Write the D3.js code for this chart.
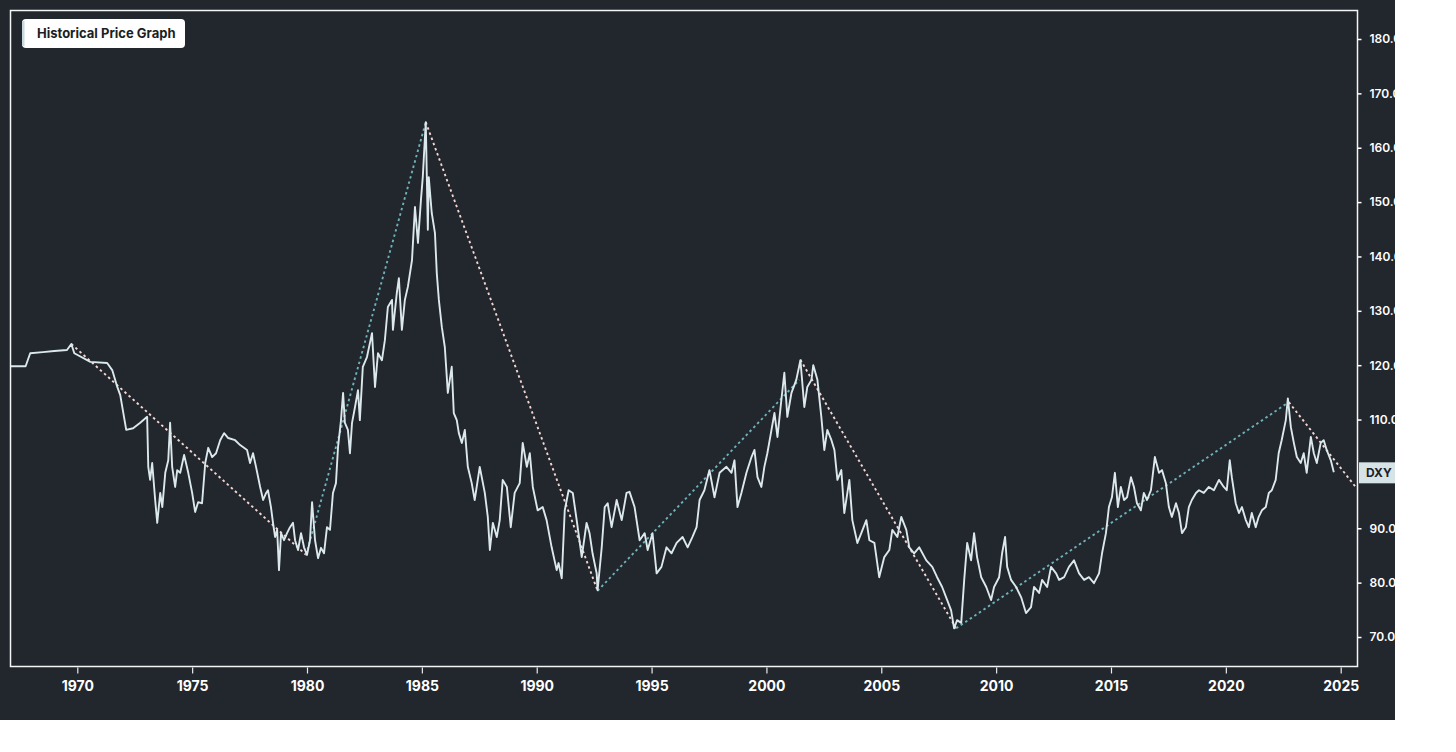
<!DOCTYPE html>
<html><head><meta charset="utf-8">
<script src="https://cdn.jsdelivr.net/npm/d3@7"></script>
<style>html,body{margin:0;padding:0;background:#fff}svg{display:block}</style>
</head><body>
<svg id="c" width="1456" height="752"></svg>
<script>
const title = "Historical Price Graph";
const seriesName = "DXY";
const lastValue = 100.2;
const xTicks = [1970,1975,1980,1985,1990,1995,2000,2005,2010,2015,2020,2025];
const yTicks = [70,80,90,110,120,130,140,150,160,170,180];
const years = [1967.09,1967.75,1967.95,1968.5,1969.0,1969.55,1969.74,1969.87,1970.57,1971.30,1971.52,1971.74,1971.87,1972.13,1972.43,1972.74,1973.04,1973.09,1973.17,1973.26,1973.39,1973.48,1973.61,1973.70,1973.83,1973.96,1974.04,1974.13,1974.26,1974.35,1974.48,1974.65,1974.83,1975.0,1975.13,1975.26,1975.43,1975.57,1975.70,1975.87,1976.04,1976.22,1976.39,1976.57,1976.87,1977.09,1977.39,1977.52,1977.65,1977.78,1977.96,1978.09,1978.22,1978.30,1978.43,1978.52,1978.61,1978.70,1978.78,1978.87,1979.0,1979.13,1979.26,1979.39,1979.48,1979.61,1979.74,1979.87,1980.0,1980.13,1980.22,1980.35,1980.48,1980.61,1980.74,1980.87,1981.0,1981.13,1981.26,1981.35,1981.48,1981.57,1981.65,1981.78,1981.87,1981.96,1982.09,1982.22,1982.30,1982.43,1982.61,1982.74,1982.83,1982.96,1983.09,1983.26,1983.39,1983.52,1983.70,1983.74,1983.91,1984.0,1984.13,1984.26,1984.39,1984.57,1984.70,1984.83,1984.96,1985.04,1985.17,1985.26,1985.30,1985.43,1985.57,1985.65,1985.74,1985.87,1986.0,1986.13,1986.30,1986.39,1986.52,1986.61,1986.74,1986.87,1987.0,1987.17,1987.30,1987.52,1987.74,1987.87,1987.96,1988.09,1988.26,1988.39,1988.52,1988.70,1988.87,1989.04,1989.26,1989.39,1989.57,1989.70,1989.83,1990.04,1990.26,1990.43,1990.65,1990.87,1990.95,1991.09,1991.22,1991.39,1991.57,1991.74,1991.96,1992.17,1992.30,1992.43,1992.61,1992.65,1992.83,1992.96,1993.09,1993.26,1993.48,1993.70,1993.91,1994.04,1994.26,1994.48,1994.70,1994.83,1995.04,1995.22,1995.43,1995.65,1995.87,1996.09,1996.35,1996.57,1996.78,1996.96,1997.09,1997.30,1997.52,1997.74,1997.96,1998.26,1998.48,1998.61,1998.74,1998.91,1999.13,1999.35,1999.48,1999.61,1999.78,1999.91,2000.04,2000.22,2000.35,2000.48,2000.65,2000.78,2000.91,2001.09,2001.30,2001.48,2001.65,2001.78,2001.96,2002.04,2002.22,2002.39,2002.52,2002.65,2002.83,2002.96,2003.09,2003.26,2003.39,2003.61,2003.74,2003.96,2004.13,2004.35,2004.48,2004.70,2004.91,2005.13,2005.35,2005.48,2005.70,2005.87,2006.09,2006.22,2006.43,2006.65,2006.96,2007.22,2007.43,2007.65,2007.87,2008.04,2008.17,2008.30,2008.48,2008.61,2008.74,2008.91,2009.04,2009.17,2009.35,2009.57,2009.78,2009.91,2010.13,2010.26,2010.39,2010.48,2010.65,2010.87,2011.09,2011.30,2011.52,2011.65,2011.87,2012.0,2012.22,2012.39,2012.61,2012.74,2012.96,2013.17,2013.39,2013.61,2013.83,2014.04,2014.26,2014.48,2014.61,2014.78,2014.91,2015.04,2015.17,2015.30,2015.43,2015.57,2015.70,2015.87,2016.0,2016.13,2016.30,2016.43,2016.57,2016.74,2016.91,2017.09,2017.22,2017.39,2017.52,2017.65,2017.83,2017.96,2018.09,2018.26,2018.39,2018.52,2018.70,2018.83,2019.04,2019.26,2019.48,2019.70,2019.91,2020.04,2020.17,2020.26,2020.43,2020.57,2020.70,2020.87,2021.0,2021.13,2021.30,2021.43,2021.57,2021.74,2021.87,2022.0,2022.17,2022.30,2022.43,2022.61,2022.70,2022.83,2022.96,2023.09,2023.26,2023.39,2023.52,2023.70,2023.83,2023.96,2024.13,2024.26,2024.39,2024.57,2024.70];
const values = [119.8,119.8,122.2,122.4,122.6,122.8,123.9,122.2,120.6,120.4,119.1,116.0,114.5,108.1,108.4,109.4,110.5,101.3,98.9,102.0,95.2,91.0,96.5,93.9,100.2,102.5,109.4,101.3,97.6,100.7,100.2,103.5,100.2,96.5,93.0,94.8,94.6,102.0,104.8,103.1,103.8,106.2,107.5,106.6,106.2,105.3,104.4,102.0,103.8,101.3,97.6,95.2,96.5,97.0,93.9,91.0,88.4,89.7,82.3,89.1,87.8,89.1,90.2,91.0,87.8,86.0,89.1,86.5,85.1,87.8,94.8,87.8,84.5,86.4,85.4,90.2,89.7,96.5,98.3,104.9,109.9,114.9,109.4,108.1,103.8,109.4,112.3,115.4,109.9,119.7,121.5,124.1,125.9,116.0,122.2,120.9,124.6,130.7,132.0,126.5,133.3,136.0,126.5,132.0,134.4,139.3,149.1,142.5,150.4,154.6,164.7,144.9,154.6,148.0,144.3,136.9,132.0,127.0,123.3,114.9,119.7,111.2,109.9,107.5,105.7,108.1,101.3,98.3,95.2,101.3,96.5,92.1,86.0,91.0,88.4,91.5,98.9,97.6,90.2,96.5,98.3,105.7,101.3,103.8,97.6,93.3,93.9,91.5,86.5,82.3,83.6,80.8,93.3,97.0,96.5,91.5,84.7,91.0,89.1,85.4,81.7,78.6,86.5,93.9,94.6,90.2,95.2,91.5,96.5,96.7,93.9,87.8,89.1,86.0,89.1,81.7,82.9,86.5,85.4,87.3,88.4,86.5,88.4,90.2,95.2,97.0,100.7,95.7,100.2,101.3,100.2,102.5,93.9,96.5,100.2,103.1,104.4,99.4,97.6,101.3,103.8,108.1,111.2,106.8,113.6,118.6,110.5,114.9,117.3,120.9,112.3,116.0,117.3,120.0,117.3,110.5,104.4,108.1,106.2,104.4,98.9,100.7,92.8,98.9,91.5,87.3,89.1,91.5,87.8,87.3,81.0,84.7,86.0,89.7,88.4,92.1,89.7,86.5,85.4,86.5,84.1,82.9,81.0,79.2,76.8,74.9,71.6,73.1,72.6,80.5,87.3,84.1,89.1,84.7,81.0,79.2,76.8,79.2,81.0,85.4,88.4,82.9,80.5,79.2,77.3,74.4,75.5,79.2,78.1,80.5,79.2,82.9,81.7,80.5,81.0,82.9,84.1,81.7,80.5,81.0,79.9,81.7,85.4,89.1,93.9,95.7,100.2,93.9,97.6,95.2,95.7,99.4,97.6,94.6,93.3,96.5,95.2,97.0,103.1,100.2,100.7,98.3,93.9,92.1,94.6,92.8,89.1,90.2,93.9,95.2,96.5,97.0,96.5,97.6,97.0,98.9,97.6,97.0,102.5,99.4,94.6,92.8,93.9,91.5,90.2,92.8,90.2,92.1,93.3,93.9,96.5,97.0,98.9,103.8,106.2,109.9,113.9,108.6,105.7,103.1,102.0,103.8,100.2,106.8,103.8,102.0,105.7,106.2,104.4,102.5,100.3];
const downTrends = [[[1969.74,123.9],[1979.96,85.1]],[[1985.17,164.7],[1992.65,78.5]],[[2001.48,121.0],[2008.26,71.6]],[[2022.74,113.2],[2025.65,97.6]]];
const upTrends = [[[1979.96,85.1],[1985.17,164.7]],[[1992.65,78.5],[2001.43,117.3]],[[2008.26,71.6],[2022.74,113.2]]];

const svg = d3.select("#c");
const BG = "#22262d";
const frame = {l:10.5, t:10.5, r:1357.5, b:666.5};
const panelW = 1395, panelH = 720;

svg.append("rect").attr("x",0).attr("y",0).attr("width",1456).attr("height",752).attr("fill","#fff");
svg.append("rect").attr("x",0).attr("y",0).attr("width",panelW).attr("height",panelH).attr("fill",BG);

const defs = svg.append("defs");
defs.append("clipPath").attr("id","panelClip").append("rect").attr("x",0).attr("y",0).attr("width",panelW).attr("height",panelH);
defs.append("clipPath").attr("id","plotClip").append("rect").attr("x",frame.l).attr("y",frame.t).attr("width",frame.r-frame.l).attr("height",frame.b-frame.t);

const x = d3.scaleLinear().domain([1970,2025]).range([77.3,1340.7]);
const y = d3.scaleLinear().domain([70,180]).range([637,39]);

const font = "Inter, 'Noto Sans', sans-serif";

const lineGen = d3.line().x(d=>x(d[0])).y(d=>y(d[1]));
const plot = svg.append("g").attr("clip-path","url(#plotClip)");
downTrends.forEach(seg=>{
  plot.append("path").attr("d",lineGen(seg)).attr("fill","none")
    .attr("stroke","#f3d6d0").attr("stroke-width",1.9).attr("stroke-dasharray","2.5,3");
});
upTrends.forEach(seg=>{
  plot.append("path").attr("d",lineGen(seg)).attr("fill","none")
    .attr("stroke","#6fb2b9").attr("stroke-width",1.9).attr("stroke-dasharray","2.5,3");
});

const data = years.map((yr,i)=>[yr, values[i]]);
plot.append("path").attr("d",lineGen(data)).attr("fill","none")
  .attr("stroke","#dbe8ec").attr("stroke-width",1.9).attr("stroke-linejoin","round");

svg.append("rect").attr("x",frame.l).attr("y",frame.t).attr("width",frame.r-frame.l).attr("height",frame.b-frame.t)
  .attr("fill","none").attr("stroke","#f4f6f7").attr("stroke-width",1.5);

const xg = svg.append("g").attr("transform",`translate(0,${frame.b+1})`)
  .call(d3.axisBottom(x).tickValues(xTicks).tickFormat(d3.format("d")).tickSize(6).tickSizeOuter(0));
xg.select(".domain").remove();
xg.selectAll(".tick line").attr("stroke","#e8ecef").attr("stroke-width",1.2);
xg.selectAll(".tick text").attr("fill","#ffffff").attr("font-family",font).attr("font-weight",700)
  .attr("font-size",14).attr("dy","1.05em");

const yg = svg.append("g").attr("clip-path","url(#panelClip)").append("g").attr("transform",`translate(${frame.r},0)`)
  .call(d3.axisRight(y).tickValues(yTicks).tickFormat(d3.format(".2f")).tickSize(4).tickPadding(8).tickSizeOuter(0));
yg.select(".domain").remove();
yg.selectAll(".tick line").attr("stroke","#ffffff").attr("stroke-width",1.5);
yg.selectAll(".tick text").attr("fill","#ffffff").attr("font-family",font).attr("font-weight",600)
  .attr("font-size",12);

const tag = svg.append("g").attr("clip-path","url(#panelClip)");
tag.append("rect").attr("x",frame.r+1.5).attr("y",y(lastValue)-10.5).attr("width",60).attr("height",21).attr("fill","#d6e4e7");
tag.append("text").attr("x",frame.r+8.5).attr("y",y(lastValue)).attr("dy","0.36em")
  .attr("font-family",font).attr("font-weight",700).attr("font-size",12).attr("fill","#1d2127").text(seriesName);

const lg = svg.append("g");
lg.append("rect").attr("x",22).attr("y",19).attr("width",163).attr("height",29).attr("rx",4).attr("fill","#ffffff");
lg.append("rect").attr("x",22).attr("y",21).attr("width",2.5).attr("height",25).attr("fill","#c5d9df");
lg.append("text").attr("x",37).attr("y",33.5).attr("dy","0.35em").attr("font-family",font).attr("font-weight",700)
  .attr("font-size",13).attr("fill","#1b1e23").text(title);
</script>
</body></html>
